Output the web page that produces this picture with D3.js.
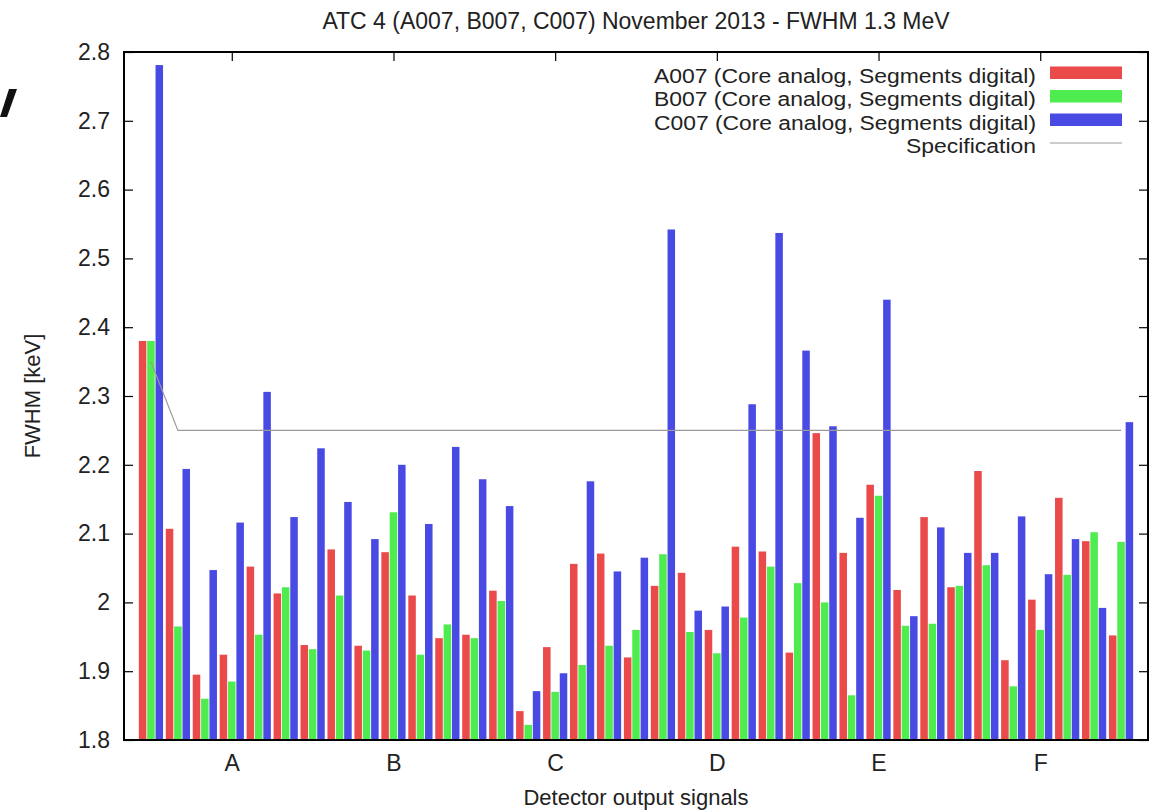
<!DOCTYPE html>
<html>
<head>
<meta charset="utf-8">
<script src="https://cdn.jsdelivr.net/npm/d3@7"></script>
<style>
  html, body { margin: 0; padding: 0; background: #fff; }
  svg { display: block; }
  text { font-family: "Liberation Sans", Arial, Helvetica, sans-serif; fill: #222; }
</style>
</head>
<body>
<svg id="chart" width="1151" height="810"></svg>
<script>
// ---- data ----
const groups = d3.range(37); // core + 36 segments (A1..F6)
const seriesNames = [
  "A007 (Core analog, Segments digital)",
  "B007 (Core analog, Segments digital)",
  "C007 (Core analog, Segments digital)"
];
const valuesA007 = [2.380, 2.107, 1.895, 1.924, 2.052, 2.013, 1.938, 2.077, 1.937, 2.073, 2.010, 1.948, 1.953,
  2.017, 1.842, 1.935, 2.056, 2.071, 1.920, 2.024, 2.043, 1.960, 2.081, 2.074, 1.927, 2.246, 2.072, 2.171,
  2.018, 2.124, 2.022, 2.191, 1.916, 2.004, 2.152, 2.089, 1.952];
const valuesB007 = [2.380, 1.965, 1.860, 1.885, 1.953, 2.022, 1.932, 2.010, 1.930, 2.131, 1.924, 1.968, 1.948,
  2.002, 1.822, 1.870, 1.909, 1.937, 1.960, 2.070, 1.957, 1.926, 1.978, 2.052, 2.028, 2.000, 1.865, 2.155,
  1.966, 1.969, 2.024, 2.054, 1.878, 1.960, 2.040, 2.102, 2.088];
const valuesC007 = [2.781, 2.194, 2.047, 2.116, 2.306, 2.124, 2.224, 2.146, 2.092, 2.200, 2.114, 2.226, 2.179,
  2.140, 1.871, 1.897, 2.176, 2.045, 2.065, 2.542, 1.988, 1.994, 2.288, 2.537, 2.366, 2.256, 2.123, 2.440,
  1.980, 2.109, 2.072, 2.072, 2.125, 2.041, 2.092, 1.992, 2.262];
const specification = [2.35, 2.25, 2.25, 2.25, 2.25, 2.25, 2.25, 2.25, 2.25, 2.25, 2.25, 2.25, 2.25,
  2.25, 2.25, 2.25, 2.25, 2.25, 2.25, 2.25, 2.25, 2.25, 2.25, 2.25, 2.25, 2.25, 2.25, 2.25,
  2.25, 2.25, 2.25, 2.25, 2.25, 2.25, 2.25, 2.25, 2.25];
const xTickPositions = [3, 9, 15, 21, 27, 33];
const xTickLabels = ["A", "B", "C", "D", "E", "F"];
const yTicks = [1.8, 1.9, 2.0, 2.1, 2.2, 2.3, 2.4, 2.5, 2.6, 2.7, 2.8];
const yTickLabels = ["1.8", "1.9", "2", "2.1", "2.2", "2.3", "2.4", "2.5", "2.6", "2.7", "2.8"];
const title = "ATC 4 (A007, B007, C007) November 2013 - FWHM 1.3 MeV";
const xTitle = "Detector output signals";
const yTitle = "FWHM [keV]";
const specName = "Specification";

// ---- layout ----
const L = 124, R = 1148, T = 52, B = 740;
const FS = 23;
const colors = ["#ea4a4a", "#4fec4f", "#4949e4"];
const svg = d3.select("#chart");

const x = d3.scaleLinear().domain([-1, 37]).range([L, R]);
const y = d3.scaleLinear().domain([1.8, 2.8]).range([B, T]);
const step = x(1) - x(0);
const pitch = step * 0.31;
const bw = pitch * 0.9;

// bottom ticks (behind bars)
svg.append("g")
  .attr("transform", `translate(0,${B})`)
  .call(d3.axisBottom(x).tickValues(xTickPositions).tickSize(-9).tickPadding(15)
    .tickFormat((d, i) => xTickLabels[i]))
  .call(g => g.select(".domain").remove())
  .call(g => g.selectAll("line").attr("stroke", "#000").attr("stroke-width", 1.2))
  .call(g => g.selectAll("text").attr("font-size", FS).attr("fill", "#222")
    .style("font-family", '"Liberation Sans", Arial, sans-serif'));

// bars
const allSeries = [valuesA007, valuesB007, valuesC007];
allSeries.forEach((vals, j) => {
  svg.append("g").selectAll("rect").data(groups).join("rect")
    .attr("x", i => x(i) + (j - 1) * pitch - bw / 2)
    .attr("width", bw)
    .attr("y", i => y(vals[i]))
    .attr("height", i => B - y(vals[i]))
    .attr("fill", colors[j]);
});

// specification line
svg.append("path")
  .datum(groups)
  .attr("fill", "none")
  .attr("stroke", "#9a9a9a")
  .attr("stroke-width", 1.2)
  .attr("d", d3.line().x(i => x(i)).y(i => y(specification[i])));

// left axis
svg.append("g")
  .attr("transform", `translate(${L},0)`)
  .call(d3.axisLeft(y).tickValues(yTicks).tickSize(-9).tickPadding(14)
    .tickFormat((d, i) => yTickLabels[i]))
  .call(g => g.select(".domain").remove())
  .call(g => g.selectAll("line").attr("stroke", "#000").attr("stroke-width", 1.2))
  .call(g => g.selectAll("text").attr("font-size", FS).attr("fill", "#222")
    .style("font-family", '"Liberation Sans", Arial, sans-serif'));

// right axis (mirror)
svg.append("g")
  .attr("transform", `translate(${R},0)`)
  .call(d3.axisRight(y).tickValues(yTicks).tickSize(-9).tickFormat(""))
  .call(g => g.select(".domain").remove())
  .call(g => g.selectAll("line").attr("stroke", "#000").attr("stroke-width", 1.2));

// top axis (mirror)
svg.append("g")
  .attr("transform", `translate(0,${T})`)
  .call(d3.axisTop(x).tickValues(xTickPositions).tickSize(-9).tickFormat(""))
  .call(g => g.select(".domain").remove())
  .call(g => g.selectAll("line").attr("stroke", "#000").attr("stroke-width", 1.2));

// frame
svg.append("rect")
  .attr("x", L).attr("y", T).attr("width", R - L).attr("height", B - T)
  .attr("fill", "none").attr("stroke", "#000").attr("stroke-width", 2);

// titles
svg.append("text").attr("x", (L + R) / 2).attr("y", 29)
  .attr("text-anchor", "middle").attr("font-size", FS).text(title);
svg.append("text").attr("x", (L + R) / 2).attr("y", 805)
  .attr("text-anchor", "middle").attr("font-size", 22).text(xTitle);
svg.append("text").attr("transform", "translate(40,396) rotate(-90)")
  .attr("text-anchor", "middle").attr("font-size", 22).text(yTitle);

// legend
const legendNames = seriesNames.concat([specName]);
const leg = svg.append("g");
legendNames.forEach((name, k) => {
  const by = 82.5 + k * 23.5;
  const t = leg.append("text").attr("x", 1036).attr("y", by)
    .attr("text-anchor", "end").attr("font-size", 20).text(name);
  if (k < 3) {
    t.attr("textLength", 382).attr("lengthAdjust", "spacingAndGlyphs");
    leg.append("rect").attr("x", 1050).attr("y", by - 16).attr("width", 72).attr("height", 12.5)
      .attr("fill", colors[k]);
  } else {
    t.attr("textLength", 130).attr("lengthAdjust", "spacingAndGlyphs");
    leg.append("line").attr("x1", 1050).attr("x2", 1122).attr("y1", by - 10).attr("y2", by - 10)
      .attr("stroke", "#9a9a9a").attr("stroke-width", 1.2);
  }
});

// cropped mark at the top-left edge of the original picture
svg.append("path")
  .attr("d", "M9,89 L17,89 L7,117 L0,117 Z")
  .attr("fill", "#111");
</script>
</body>
</html>
